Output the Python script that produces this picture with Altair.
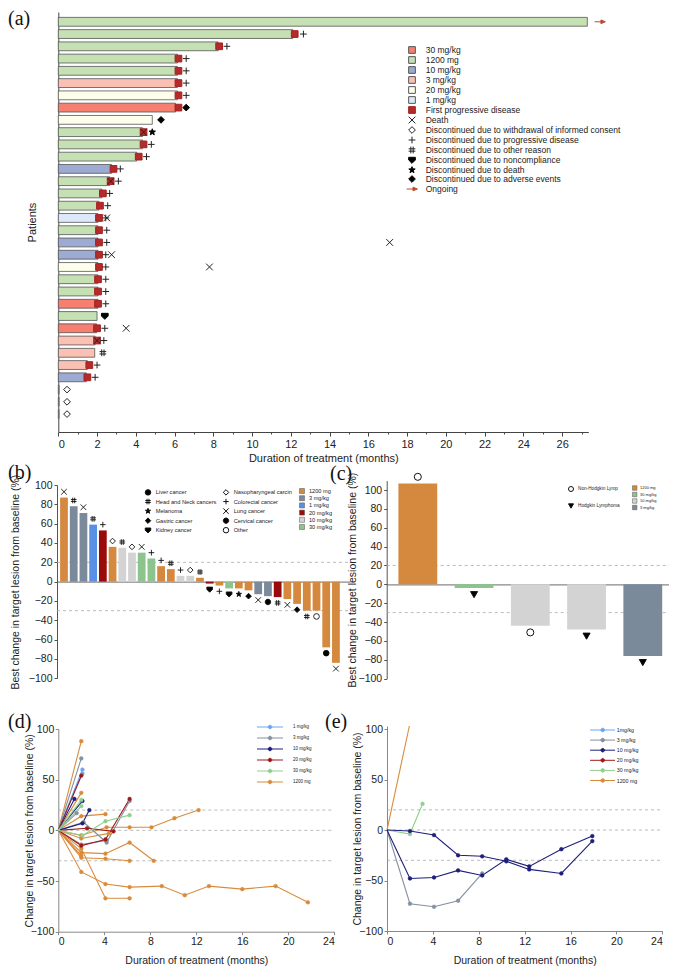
import math
import altair as alt
import pandas as pd

W, H = 661, 962
SANS = "Liberation Sans"
SERIF = "Liberation Serif"

# ---------------- symbol shapes ----------------
def poly(points):
    return "M" + "L".join(f"{x:.3f},{y:.3f}" for x, y in points) + "Z"

def star(r1=1.0, r2=0.42):
    pts = []
    for i in range(10):
        r = r1 if i % 2 == 0 else r2
        a = -math.pi / 2 + i * math.pi / 5
        pts.append((r * math.cos(a), r * math.sin(a)))
    return poly(pts)

def dot(cx, cy, r, k=12):
    return poly([(cx + r * math.cos(2 * math.pi * i / k), cy + r * math.sin(2 * math.pi * i / k)) for i in range(k)])

X_PATH = "M-1,-1L1,1M-1,1L1,-1"
PLUS_PATH = "M-1,0L1,0M0,-1L0,1"
HASH_PATH = "M-0.35,-1L-0.35,1M0.35,-1L0.35,1M-1,-0.35L1,-0.35M-1,0.35L1,0.35"
SHIELD_PATH = "M-1,-0.8L1,-0.8L1,0L0,1L-1,0Z"
STAR_PATH = star()
OCT_PATH = dot(0, 0, 1.0, 8)
ARROW_PATH = "M-1.6,0L0.5,0M0.3,-0.55L1.6,0L0.3,0.55Z"
LEG_D_PATH = "M-30.75,0L-4.75,0" + dot(-17.75, 0, 1.8)
LEG_E_PATH = "M-21,0L4,0" + dot(-8.35, 0, 1.8)

# ---------------- panel (a) data ----------------
a_dose = ["1200 mg", "1200 mg", "1200 mg", "1200 mg", "1200 mg", "3 mg/kg", "20 mg/kg", "30 mg/kg", "20 mg/kg", "1200 mg",
          "1200 mg", "1200 mg", "10 mg/kg", "1200 mg", "1200 mg", "1200 mg", "1 mg/kg", "1200 mg", "10 mg/kg", "10 mg/kg",
          "20 mg/kg", "1200 mg", "1200 mg", "30 mg/kg", "1200 mg", "30 mg/kg", "3 mg/kg", "3 mg/kg", "3 mg/kg", "10 mg/kg",
          "1200 mg", "1200 mg", "1200 mg"]
a_dur = [27.3, 12.1, 8.25, 6.15, 6.15, 6.15, 6.15, 6.05, 4.85, 4.35,
         4.35, 4.05, 2.75, 2.65, 2.25, 2.1, 2.05, 2.05, 2.05, 2.05,
         2.05, 2.05, 2.05, 2.05, 2.0, 1.98, 1.9, 1.88, 1.5, 1.45,
         0.04, 0.04, 0.04]
a_pd = [None, 12.2, 8.3, 6.2, 6.2, 6.2, 6.2, 6.2, None, 4.4,
        4.4, 4.15, 2.85, 2.7, 2.3, 2.15, 2.1, 2.1, 2.1, 2.1,
        2.1, 2.05, 2.05, 2.05, None, 2.0, 2.0, None, 1.6, 1.5,
        None, None, None]
a_death = [None, None, None, None, None, None, None, None, None, 4.4,
           None, None, None, 2.7, None, None, 2.5, None, 17.1, 2.75,
           7.8, None, None, None, None, 3.5, 2.0, None, None, None,
           None, None, None]
a_disc = ["ongoing", "prog", "prog", "prog", "prog", "prog", "prog", "ae", "ae", "death",
          "prog", "prog", "prog", "prog", "prog", "prog", "prog", "prog", "prog", "prog",
          "prog", "prog", "prog", "prog", "noncomp", "prog", "prog", "other", "prog", "prog",
          "withdraw", "withdraw", "withdraw"]
a_disc_x = [27.95, 12.65, 8.7, 6.6, 6.6, 6.6, 6.6, 6.6, 5.3, 4.85,
            4.8, 4.55, 3.2, 3.1, 2.65, 2.55, 2.45, 2.5, 2.5, 2.45,
            2.45, 2.45, 2.45, 2.45, 2.4, 2.4, 2.35, 2.3, 2.0, 1.9,
            0.45, 0.45, 0.45]

A_KEYS = ["30 mg/kg", "1200 mg", "10 mg/kg", "3 mg/kg", "20 mg/kg", "1 mg/kg",
          "First progressive disease", "Death",
          "Discontinued due to withdrawal of informed consent",
          "Discontinued due to progressive disease",
          "Discontinued due to other reason",
          "Discontinued due to noncompliance",
          "Discontinued due to death",
          "Discontinued due to adverse events",
          "Ongoing"]
A_FILL = ["#F67F70", "#C5E0B3", "#9DAAD1", "#FBC0B4", "#FEFEEC", "#DCE9F8",
          "#B52A2A", "transparent", "white", "transparent", "transparent", "black", "black", "black", "#BE4B2C"]
A_STROKE = ["#555555"] * 6 + ["#A52020", "#222222", "#222222", "#222222", "#222222", "black", "black", "black", "#BE4B2C"]
A_SHAPE = ["square"] * 7 + [X_PATH, "diamond", PLUS_PATH, HASH_PATH, SHIELD_PATH, STAR_PATH, "diamond", ARROW_PATH]
disc_key = {"prog": "Discontinued due to progressive disease", "ae": "Discontinued due to adverse events",
            "death": "Discontinued due to death", "noncomp": "Discontinued due to noncompliance",
            "other": "Discontinued due to other reason", "withdraw": "Discontinued due to withdrawal of informed consent",
            "ongoing": "Ongoing"}

a_ids = [f"P{i:02d}" for i in range(1, len(a_dur) + 1)]
ev_pid, ev_x, ev_key = [], [], []
for i, p in enumerate(a_ids):
    if a_pd[i] is not None:
        ev_pid.append(p); ev_x.append(a_pd[i]); ev_key.append("First progressive disease")
for i, p in enumerate(a_ids):
    if a_death[i] is not None:
        ev_pid.append(p); ev_x.append(a_death[i]); ev_key.append("Death")
for i, p in enumerate(a_ids):
    ev_pid.append(p); ev_x.append(a_disc_x[i]); ev_key.append(disc_key[a_disc[i]])

dfa_bar = pd.DataFrame({"pid": a_ids, "x": a_dur, "key": a_dose})
dfa_ev = pd.DataFrame({"pid": ev_pid, "x": ev_x, "key": ev_key})

ax_a_x = alt.Axis(orient="bottom", offset=424 - H, values=list(range(0, 28)),
                  labelExpr="datum.value % 2 === 0 ? datum.label : ''",
                  tickSize={"condition": {"test": "datum.value % 2 === 0", "value": 4}, "value": 2},
                  labelPadding=2, labelFontSize=11, title="Duration of treatment (months)", titleFontSize=11,
                  titlePadding=4, minExtent=16, maxExtent=16, domainColor="#444", tickColor="#444")
ax_a_y = alt.Axis(orient="left", offset=-50.3, labels=False, ticks=False, title="Patients", titleFontSize=11,
                  titleX=-21.3, minExtent=0, maxExtent=0, domainColor="#444")
sc_a_x = alt.Scale(domain=[0, 27.35], range=[50.3, 580.3], nice=False)
sc_a_y = alt.Scale(domain=a_ids, range=[4, 424], paddingInner=0.28, paddingOuter=0.77, align=0.285)
leg_a = alt.Legend(title=None, orient="none", legendX=399.75, legendY=37.75, labelFontSize=8.5, symbolSize=45,
                   symbolStrokeWidth=1, labelOffset=9.45, rowPadding=-2.6, symbolFillColor="transparent",
                   symbolStrokeColor="black", labelLimit=400)
xa = alt.X("x:Q", scale=sc_a_x, axis=ax_a_x)
ya = alt.Y("pid:N", scale=sc_a_y, axis=ax_a_y)
fa = alt.Fill("key:N", scale=alt.Scale(domain=A_KEYS, range=A_FILL), legend=leg_a)
bars_a = alt.Chart(dfa_bar).mark_bar(stroke="#555555", strokeWidth=0.8, opacity=1).encode(x=xa, y=ya, fill=fa)
pts_a = alt.Chart(dfa_ev).mark_point(size=45, strokeWidth=1, opacity=1).encode(
    x=xa, y=ya, fill=fa,
    stroke=alt.Stroke("key:N", scale=alt.Scale(domain=A_KEYS, range=A_STROKE), legend=leg_a),
    shape=alt.Shape("key:N", scale=alt.Scale(domain=A_KEYS, range=A_SHAPE), legend=leg_a))
panel_a = alt.layer(bars_a, pts_a)

# ---------------- panel (b) data ----------------
REF = [20, -30]
b_val = [87, 78, 71, 59, 53, 36, 35, 30, 30, 24, 16, 13, 6, 6, 4,
         -2, -4, -7, -7, -9, -13, -15, -16, -18, -23, -30, -30, -68, -84]
b_dose = ["1200 mg", "3 mg/kg", "3 mg/kg", "1 mg/kg", "20 mg/kg", "1200 mg", "10 mg/kg", "10 mg/kg", "30 mg/kg", "30 mg/kg",
          "1200 mg", "1200 mg", "10 mg/kg", "10 mg/kg", "1200 mg", "20 mg/kg", "1200 mg", "30 mg/kg", "1200 mg", "1200 mg",
          "3 mg/kg", "3 mg/kg", "20 mg/kg", "1200 mg", "1200 mg", "1200 mg", "1200 mg", "1200 mg", "1200 mg"]
b_cancer = ["Lung cancer", "Head and Neck cancers", "Lung cancer", "Head and Neck cancers", "Colorectal cancer",
            "Nasopharyngeal carcin", "Head and Neck cancers", "Nasopharyngeal carcin", "Lung cancer", "Colorectal cancer",
            "Colorectal cancer", "Head and Neck cancers", "Colorectal cancer", "Nasopharyngeal carcin", "Head and Neck cancers",
            "Kidney cancer", "Colorectal cancer", "Kidney cancer", "Melanoma", "Gastric cancer",
            "Lung cancer", "Cervical cancer", "Head and Neck cancers", "Lung cancer", "Gastric cancer",
            "Head and Neck cancers", "Other", "Liver cancer", "Lung cancer"]
B_DOSES = ["1200 mg", "3 mg/kg", "1 mg/kg", "20 mg/kg", "10 mg/kg", "30 mg/kg"]
B_COLORS = ["#D4893F", "#7B8A9A", "#5A8FE6", "#9B0A0A", "#D3D3D3", "#8DC48D"]
CANCERS = ["Liver cancer", "Head and Neck cancers", "Melanoma", "Gastric cancer", "Kidney cancer",
           "Nasopharyngeal carcin", "Colorectal cancer", "Lung cancer", "Cervical cancer", "Other"]
C_FILL = ["black", "transparent", "black", "black", "black", "white", "transparent", "transparent", "black", "white"]
C_SHAPE = ["circle", HASH_PATH, STAR_PATH, "diamond", SHIELD_PATH, "diamond", PLUS_PATH, X_PATH, OCT_PATH, "circle"]

b_ids = [f"B{i:02d}" for i in range(1, len(b_val) + 1)]
dfb = pd.DataFrame({"bid": b_ids, "val": b_val, "dose": b_dose})
dfb_m = pd.DataFrame({"bid": b_ids, "val": [v + 6 if v > 0 else v - 6 for v in b_val], "cancer": b_cancer})
B_TITLE = "Best change in target lesion from baseline (%)"
ax_b_x = alt.Axis(orient="bottom", offset=573.7 - H, labels=False, ticks=False, title=None,
                  domainColor="#888888", domainWidth=1.2)
ax_b_y = alt.Axis(orient="left", offset=-49, values=list(range(-100, 101, 20)), tickSize=3, labelPadding=2,
                  labelFontSize=10.5, title=B_TITLE, titleFontSize=10.5, titleX=-37,
                  minExtent=28, maxExtent=28, domainColor="#555", tickColor="#555")
xb = alt.X("bid:N", scale=alt.Scale(domain=b_ids, range=[49, 342], paddingInner=0.2, paddingOuter=0.685, align=0.234),
           axis=ax_b_x)
yb = alt.Y("val:Q", scale=alt.Scale(domain=[-100, 100], range=[670.3, 477], nice=False), axis=ax_b_y)
leg_b_dose = alt.Legend(title=None, orient="none", legendX=291, legendY=480, symbolType="square", symbolSize=25,
                        symbolStrokeWidth=0.5, symbolStrokeColor="#555", labelFontSize=5.6, labelOffset=4,
                        rowPadding=-0.8)
leg_b_can = alt.Legend(title=None, orient="none", legendX=136.5, legendY=480.5, columns=2, columnPadding=4,
                       symbolSize=30, symbolStrokeWidth=1, labelFontSize=5.7, labelOffset=4.2, rowPadding=-1.45,
                       symbolFillColor="transparent", symbolStrokeColor="black")
ref_b = alt.Chart(pd.DataFrame({"val": REF})).mark_rule(color="#aaaaaa", strokeDash=[3, 3], strokeWidth=0.8).encode(
    y=yb, x=alt.value(49), x2=alt.value(342))
bars_b = alt.Chart(dfb).mark_bar(opacity=1).encode(
    x=xb, y=yb, color=alt.Color("dose:N", scale=alt.Scale(domain=B_DOSES, range=B_COLORS), legend=leg_b_dose))
pts_b = alt.Chart(dfb_m).mark_point(size=32, strokeWidth=0.9, opacity=1).encode(
    x=xb, y=yb,
    fill=alt.Fill("cancer:N", scale=alt.Scale(domain=CANCERS, range=C_FILL), legend=leg_b_can),
    stroke=alt.Stroke("cancer:N", scale=alt.Scale(domain=CANCERS, range=["#111111"] * 10), legend=leg_b_can),
    shape=alt.Shape("cancer:N", scale=alt.Scale(domain=CANCERS, range=C_SHAPE), legend=leg_b_can))
panel_b = alt.layer(ref_b, bars_b, pts_b)

# ---------------- panel (c) data ----------------
c_val = [107, -4, -44, -48, -76]
c_dose = ["1200 mg", "30 mg/kg", "10 mg/kg", "10 mg/kg", "3 mg/kg"]
c_type = ["Non-Hodgkin Lymp", "Hodgkin Lymphoma", "Non-Hodgkin Lymp", "Hodgkin Lymphoma", "Hodgkin Lymphoma"]
C_DOSES = ["1200 mg", "30 mg/kg", "10 mg/kg", "3 mg/kg"]
C_COLORS = ["#D4893F", "#8DC48D", "#D3D3D3", "#7B8A9A"]
LYMPH = ["Non-Hodgkin Lymp", "Hodgkin Lymphoma"]

c_ids = [f"C{i}" for i in range(1, len(c_val) + 1)]
dfc = pd.DataFrame({"cid": c_ids, "val": c_val, "dose": c_dose})
dfc_m = pd.DataFrame({"cid": c_ids, "val": [v + 7 if v > 0 else v - 7 for v in c_val], "lym": c_type})
ax_c_x = alt.Axis(orient="bottom", offset=576.3 - H, labels=False, ticks=False, title=None,
                  domainColor="#888888", domainWidth=1.2)
ax_c_y = alt.Axis(orient="left", offset=-378.7, values=list(range(-100, 101, 20)), tickSize=3, labelPadding=2,
                  labelFontSize=10.5, title=B_TITLE, titleFontSize=10.5, titleX=-29.7, minExtent=26, maxExtent=26,
                  domainColor="#555", tickColor="#555")
xc = alt.X("cid:N", scale=alt.Scale(domain=c_ids, range=[378.7, 665], paddingInner=0.31, paddingOuter=0.2, align=0.52),
           axis=ax_c_x)
yc = alt.Y("val:Q", scale=alt.Scale(domain=[-100, 110], range=[670.6, 472.6], nice=False), axis=ax_c_y)
leg_c_dose = alt.Legend(title=None, orient="none", legendX=624.2, legendY=477.5, symbolType="square", symbolSize=20,
                        symbolStrokeWidth=0.5, symbolStrokeColor="#555", labelFontSize=4, labelOffset=2.8,
                        rowPadding=-0.5)
leg_c_lym = alt.Legend(title=None, orient="none", legendX=560, legendY=478, symbolSize=25, symbolStrokeWidth=1,
                       labelFontSize=4.7, labelOffset=4, rowPadding=7,
                       symbolFillColor="transparent", symbolStrokeColor="black")
ref_c = alt.Chart(pd.DataFrame({"val": REF})).mark_rule(color="#aaaaaa", strokeDash=[3, 3], strokeWidth=0.8).encode(
    y=yc, x=alt.value(378.7), x2=alt.value(665))
bars_c = alt.Chart(dfc).mark_bar(opacity=1).encode(
    x=xc, y=yc, color=alt.Color("dose:N", scale=alt.Scale(domain=C_DOSES, range=C_COLORS), legend=leg_c_dose))
pts_c = alt.Chart(dfc_m).mark_point(size=50, strokeWidth=1, opacity=1).encode(
    x=xc, y=yc,
    fill=alt.Fill("lym:N", scale=alt.Scale(domain=LYMPH, range=["white", "black"]), legend=leg_c_lym),
    stroke=alt.Stroke("lym:N", scale=alt.Scale(domain=LYMPH, range=["#111111", "#111111"]), legend=leg_c_lym),
    shape=alt.Shape("lym:N", scale=alt.Scale(domain=LYMPH, range=["circle", "triangle-down"]), legend=leg_c_lym))
panel_c = alt.layer(ref_c, bars_c, pts_c)

# ---------------- panel (d) / (e) data ----------------
D_DOSES = ["1 mg/kg", "3 mg/kg", "10 mg/kg", "20 mg/kg", "30 mg/kg", "1200 mg"]
D_COLORS = ["#6CA6F2", "#8391A0", "#1E1F7A", "#9E1A1A", "#8FD08F", "#D98B3C"]
d_dose = ["1200 mg"] * 10 + ["3 mg/kg"] * 4 + ["1 mg/kg"] * 2 + ["10 mg/kg"] * 3 + ["20 mg/kg"] * 3 + ["30 mg/kg"] * 3
d_t = [[0, 2.0], [0, 2.0], [0, 2.0, 4.1], [0, 2.0, 4.2, 6.2, 8.1, 10.1, 12.2], [0, 2.0, 4.1, 6.2, 8.3],
       [0, 2.0, 4.1, 6.2], [0, 2.0, 4.1, 6.2, 9.0, 11.0, 13.1, 16.0, 18.9, 21.7], [0, 2.0, 4.1, 6.2],
       [0, 2.0, 4.4], [0, 2.0],
       [0, 2.0], [0, 1.6], [0, 2.2, 4.2, 6.2], [0, 2.0, 4.2],
       [0, 2.1], [0, 2.1],
       [0, 1.4], [0, 2.1], [0, 2.1, 2.7],
       [0, 2.0], [0, 2.5, 4.8], [0, 2.0, 4.1, 6.2],
       [0, 2.0], [0, 2.0], [0, 2.1, 4.1, 6.2]]
d_v = [[0, 88], [0, 37], [0, 14, 16], [0, -5, 3, 3, 3, 12, 20], [0, -22, -23, -12, -30],
       [0, -27, -28, -30], [0, -41, -53, -56, -55, -64, -55, -58, -55, -71], [0, -18, -67, -67],
       [0, -8, -3], [0, -25],
       [0, 71], [0, 17], [0, 8, -12, 29], [0, -14, -10],
       [0, 60], [0, 56],
       [0, 31], [0, 29], [0, 7, 20],
       [0, 54], [0, 2, -1], [0, -15, -9, 31],
       [0, 30], [0, 24], [0, -5, 9, 15]]

E_DOSES = ["1mg/kg", "3 mg/kg", "10 mg/kg", "20 mg/kg", "30 mg/kg", "1200 mg"]
e_dose = ["1200 mg", "30 mg/kg", "3 mg/kg", "10 mg/kg", "10 mg/kg"]
e_t = [[0, 1.95], [0, 2.0, 3.1], [0, 2.0, 4.1, 6.2, 8.3],
       [0, 2.0, 4.1, 6.2, 8.3, 10.4, 12.4, 15.2, 17.9],
       [0, 2.0, 4.1, 6.2, 8.3, 10.4, 12.4, 15.2, 17.9]]
e_v = [[0, 103], [0, -4, 26], [0, -73, -76, -70, -43],
       [0, -1, -5, -25, -26, -31, -39, -43, -11],
       [0, -48, -47, -40, -45, -29, -36, -19, -6]]


def long_table(doses, ts, vs):
    rows = []
    for k, (dz, tt, vv) in enumerate(zip(doses, ts, vs)):
        for t, v in zip(tt, vv):
            rows.append({"sid": k, "dose": dz, "t": t, "v": v})
    return pd.DataFrame(rows)


def line_panel(df, doses, colors, xr, yr, ydom, yoff, xaxis_off, leg, title_x):
    ax_x = alt.Axis(orient="bottom", offset=xaxis_off, values=list(range(0, 25, 4)), tickSize=3, labelPadding=2,
                    labelFontSize=10.5, title="Duration of treatment (months)", titleFontSize=10.5, titlePadding=8,
                    minExtent=16, maxExtent=16, domainColor="#888888", tickColor="#888888")
    ax_y = alt.Axis(orient="left", offset=yoff, values=[-100, -50, 0, 50, 100], tickSize=3, labelPadding=1.5,
                    labelFontSize=10.5, title="Change in target lesion from baseline (%)", titleFontSize=10.5,
                    titleX=title_x, minExtent=21, maxExtent=21, domainColor="#888888", tickColor="#888888")
    sx = alt.Scale(domain=[0, 24], range=xr, nice=False)
    sy = alt.Scale(domain=ydom, range=yr, nice=False)
    x = alt.X("t:Q", scale=sx, axis=ax_x)
    y = alt.Y("v:Q", scale=sy, axis=ax_y)
    col = alt.Scale(domain=doses, range=colors)
    ref = alt.Chart(pd.DataFrame({"v": [20, 0, -30]})).mark_rule(
        color="#aaaaaa", strokeDash=[3, 3], strokeWidth=0.8).encode(
        y=y, x=alt.XDatum(0, scale=sx, axis=ax_x), x2=alt.X2Datum(24))
    lines = alt.Chart(df).mark_line(strokeWidth=1.1).encode(
        x=x, y=y, stroke=alt.Stroke("dose:N", scale=col, legend=leg), detail="sid:N", order="t:Q")
    pts = alt.Chart(df[(df["t"] > 0) & (df["v"] <= 100)]).mark_point(
        filled=True, size=14, strokeWidth=0.5, opacity=1).encode(
        x=x, y=y, fill=alt.Fill("dose:N", scale=col, legend=leg), stroke=alt.Stroke("dose:N", scale=col, legend=leg))
    return alt.layer(ref, lines, pts)


leg_d = alt.Legend(title=None, orient="none", legendX=277.5, legendY=716.75, symbolType=LEG_D_PATH, symbolSize=4,
                   symbolStrokeWidth=1, labelFontSize=4.5, labelOffset=3, rowPadding=2.0,
                   symbolFillColor="transparent", symbolStrokeColor="black")
leg_e = alt.Legend(title=None, orient="none", legendX=600.4, legendY=719.35, symbolType=LEG_E_PATH, symbolSize=4,
                   symbolStrokeWidth=1, labelFontSize=5.3, labelOffset=3, rowPadding=1.1,
                   symbolFillColor="transparent", symbolStrokeColor="black")

panel_d = line_panel(long_table(d_dose, d_t, d_v), D_DOSES, D_COLORS, [50.3, 326.3], [923.7, 721], [-100, 100],
                     -50.3, 923.7 - H, leg_d, -24.3)
panel_e = line_panel(long_table(e_dose, e_t, e_v), E_DOSES, D_COLORS, [379, 654.3], [923, 718], [-100, 103],
                     -379, 923 - H, leg_e, -25)

# ---------------- panel letters ----------------
def letter(txt, px, py):
    return alt.Chart(pd.DataFrame({"lab": [txt]})).mark_text(
        font=SERIF, fontSize=20, align="left", baseline="alphabetic", color="#111").encode(
        text="lab:N", x=alt.value(px), y=alt.value(py))

letters = alt.layer(letter("(a)", 0, 17), letter("(b)", 0, 471), letter("(c)", 322, 472),
                    letter("(d)", 0, 719.5), letter("(e)", 317, 719.5))

chart = alt.layer(panel_a, panel_b, panel_c, panel_d, panel_e, letters).resolve_scale(
    x="independent", y="independent", color="independent", fill="independent",
    stroke="independent", shape="independent"
).resolve_axis(x="independent", y="independent").resolve_legend(
    color="independent", fill="independent", stroke="independent", shape="independent"
).properties(
    width=W, height=H, padding=0, autosize=alt.AutoSizeParams(type="none")
).configure_view(stroke=None).configure_axis(
    grid=False, labelFont=SANS, titleFont=SANS, titleFontWeight="normal", labelColor="#222", titleColor="#222"
).configure_legend(labelFont=SANS, labelColor="#222")

chart.save("out.html", embed_options={"renderer": "svg", "actions": False})
